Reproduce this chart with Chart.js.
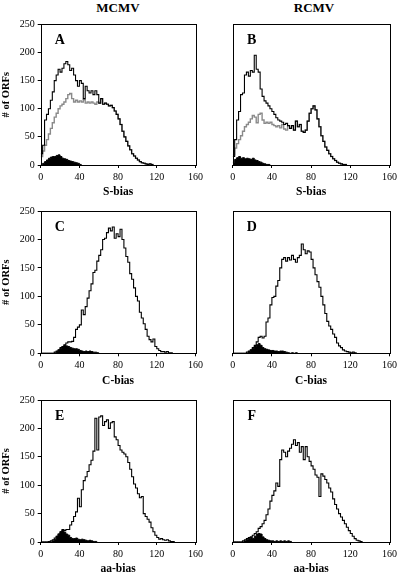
<!DOCTYPE html>
<html>
<head>
<meta charset="utf-8">
<script src="https://cdn.jsdelivr.net/npm/chart.js@4.4.1/dist/chart.umd.min.js"></script>
<style>
  body { margin: 0; width: 400px; height: 577px; position: relative; background: #fff; overflow: hidden; }
  canvas { position: absolute; }
  .head { position: absolute; top: 0; width: 100px; text-align: center; line-height: 17px;
          font: bold 13px "Liberation Serif", "Times New Roman", serif; }
</style>
</head>
<body>
<div class="head" style="left:68px">MCMV</div>
<div class="head" style="left:264px">RCMV</div>
<canvas id="cA" width="215" height="186" style="left:0;top:14px"></canvas>
<canvas id="cB" width="200" height="186" style="left:200px;top:14px"></canvas>
<canvas id="cC" width="215" height="189" style="left:0;top:200px"></canvas>
<canvas id="cD" width="200" height="189" style="left:200px;top:200px"></canvas>
<canvas id="cE" width="215" height="188" style="left:0;top:389px"></canvas>
<canvas id="cF" width="200" height="188" style="left:200px;top:389px"></canvas>
<script>
// bins are 2 units wide, starting at 0
const binWidth = 2;
const xTicks = [0, 40, 80, 120, 160];
const yTicks = [0, 50, 100, 150, 200, 250];
const axisTitles = ['S-bias', 'C-bias', 'aa-bias'];

// MCMV S-bias
const aTotal = [20,35,80,90,100,115,130,150,160,170,165,172,180,184,178,168,172,160,150,140,
  150,145,118,140,132,128,132,125,132,125,110,118,108,110,108,105,106,102,96,90,
  82,72,60,50,42,34,27,20,16,12,9,6,4,3,2,1,2,1,0];
const aGray = [15,25,35,45,55,65,75,85,92,100,105,108,112,118,125,127,118,112,115,112,
  114,112,116,110,112,110,112,110,108,112,110,118,108,110,108,105,106,102,96,90,
  82,72,60,50,42,34,27,20,16,12,9,6,4,3,2,1,2,1,0];
const aFilled = [1,3,6,9,12,14,15,15,17,18,15,12,11,10,8,7,6,5,4,3,1,0];

// RCMV S-bias
const bTotal = [15,45,80,95,125,128,160,165,158,168,165,195,170,165,135,122,114,110,105,100,
  95,90,84,80,78,76,72,74,70,65,70,62,78,68,72,60,58,62,78,92,
  100,105,98,82,68,52,42,32,26,20,15,11,8,5,3,2,1,1,0];
const bGray = [18,30,38,45,52,60,68,72,76,82,88,85,75,90,92,80,74,76,74,76,
  72,70,68,70,66,72,64,62,70,65,70,62,78,68,72,60,58,62,78,92,
  100,105,98,82,68,52,42,32,26,20,15,11,8,5,3,2,1,1,0];
const bFilled = [5,10,13,15,12,13,11,12,11,10,12,9,8,6,5,3,2,1,1,0];

// MCMV C-bias
const cTotal = [0,0,0,0,0,0,0,2,4,6,10,12,15,18,20,20,21,28,42,46,
  50,76,68,82,97,110,122,142,146,162,172,182,200,202,212,220,215,222,202,210,
  205,218,200,185,170,160,140,130,115,100,92,72,62,52,42,30,24,20,25,12,
  8,5,3,3,2,3,1,1,0];
const cFilled = [0,0,0,0,0,0,0,0,3,6,9,12,14,13,12,10,9,8,8,7,5,4,3,4,3,4,3,2,2,1,0];

// RCMV C-bias
const dTotal = [0,0,0,0,0,0,0,2,4,6,10,14,20,28,30,27,30,55,62,85,
  98,100,118,128,150,165,168,162,168,164,172,165,160,168,172,192,182,175,180,178,
  165,150,138,126,116,100,85,70,56,48,42,34,28,18,13,10,6,4,3,2,
  1,2,1,0];
const dFilled = [0,0,0,0,0,0,0,0,3,6,9,12,15,17,14,10,8,7,6,5,5,4,4,3,4,4,3,2,1,0,1,0,1,0];

// MCMV aa-bias
const eTotal = [0,0,0,0,1,2,4,7,10,14,18,22,20,22,22,30,36,45,53,77,
  62,92,108,115,124,136,144,160,218,162,220,222,205,212,215,200,210,212,185,180,
  170,162,158,155,150,140,128,115,102,95,85,78,80,50,45,40,35,25,18,12,
  8,5,6,4,3,4,2,1,1,0];
const eFilled = [0,0,0,0,0,0,2,5,10,14,18,21,17,14,12,8,6,6,7,5,4,5,4,3,2,3,2,1,1,0];

// RCMV aa-bias
const fTotal = [0,0,0,0,0,2,4,6,8,9,12,15,18,24,27,32,38,48,58,72,
  82,90,104,98,145,162,158,150,160,165,172,180,170,175,158,168,145,168,150,142,
  134,128,118,114,80,120,116,110,104,95,88,76,66,58,50,44,38,32,26,20,
  15,10,6,3,2,1,0];
const fFilled = [0,0,0,0,0,0,2,4,6,8,6,10,14,15,14,9,6,4,3,2,2,1,2,1,2,1,2,1,2,1,0];

Chart.defaults.font.family = '"Liberation Serif", "Times New Roman", serif';
Chart.defaults.color = '#000';

function pts(values) {
  return values.map((v, i) => ({ x: i * binWidth, y: v }));
}

const frameAndLetter = {
  id: 'frameAndLetter',
  afterDraw(chart, args, opts) {
    const { ctx, chartArea: a } = chart;
    ctx.save();
    ctx.strokeStyle = '#000';
    ctx.lineWidth = 1;
    ctx.strokeRect(Math.round(a.left) + 0.5, Math.round(a.top) + 0.5,
      Math.round(a.right - a.left), Math.round(a.bottom - a.top));
    ctx.font = 'bold 14px "Liberation Serif", serif';
    ctx.textAlign = 'center';
    ctx.textBaseline = 'middle';
    ctx.fillText(opts.letter, a.left + 19, a.top + 16.5);
    ctx.restore();
  }
};

function panel(id, letter, row, leftCol, total, gray, filled, box) {
  const datasets = [
    { data: pts(filled), borderColor: '#000', backgroundColor: '#000', fill: 'origin', borderWidth: 1 },
    { data: pts(total), borderColor: '#000', borderWidth: 1.1, fill: false }
  ];
  if (gray) datasets.push({ data: pts(gray), borderColor: '#8a8a8a', borderWidth: 1.4, fill: false });
  datasets.forEach(d => { d.stepped = true; d.pointRadius = 0; });

  new Chart(document.getElementById(id), {
    type: 'line',
    data: { datasets },
    options: {
      responsive: false,
      animation: false,
      layout: { autoPadding: false, padding: { top: box.top, right: box.right, left: 0, bottom: 0 } },
      plugins: { legend: { display: false }, tooltip: { enabled: false }, frameAndLetter: { letter } },
      scales: {
        x: {
          type: 'linear', min: 0, max: 160,
          afterBuildTicks: s => { s.ticks = xTicks.map(v => ({ value: v })); },
          afterFit: s => { s.height = box.xh; },
          grid: { drawOnChartArea: false, tickLength: 3, color: '#000' },
          border: { display: false },
          ticks: { padding: 3, font: { size: 10 }, maxRotation: 0 },
          title: { display: true, text: axisTitles[row], font: { size: 11.5, weight: 'bold' }, padding: { top: 0, bottom: 1 } }
        },
        y: {
          min: 0, max: 250,
          afterBuildTicks: s => { s.ticks = yTicks.map(v => ({ value: v })); },
          afterFit: s => { s.width = box.yw; },
          grid: leftCol ? { drawOnChartArea: false, tickLength: 3, color: '#000' } : { display: false },
          border: { display: false },
          ticks: { display: leftCol, padding: 3, font: { size: 10 } },
          title: { display: leftCol, text: '# of ORFs', font: { size: 10.5, weight: 'bold' }, padding: 0 }
        }
      }
    },
    plugins: [frameAndLetter]
  });
}

const leftBox = [
  { top: 10.3, right: 19.5, xh: 35, yw: 40.7 },
  { top: 11, right: 19.5, xh: 35.7, yw: 40.7 },
  { top: 11, right: 19.5, xh: 35, yw: 40.7 }
];
const rightBox = leftBox.map(b => ({ top: b.top, right: 8.3, xh: b.xh, yw: 32.7 }));

panel('cA', 'A', 0, true, aTotal, aGray, aFilled, leftBox[0]);
panel('cB', 'B', 0, false, bTotal, bGray, bFilled, rightBox[0]);
panel('cC', 'C', 1, true, cTotal, null, cFilled, leftBox[1]);
panel('cD', 'D', 1, false, dTotal, null, dFilled, rightBox[1]);
panel('cE', 'E', 2, true, eTotal, null, eFilled, leftBox[2]);
panel('cF', 'F', 2, false, fTotal, null, fFilled, rightBox[2]);
</script>
</body>
</html>
